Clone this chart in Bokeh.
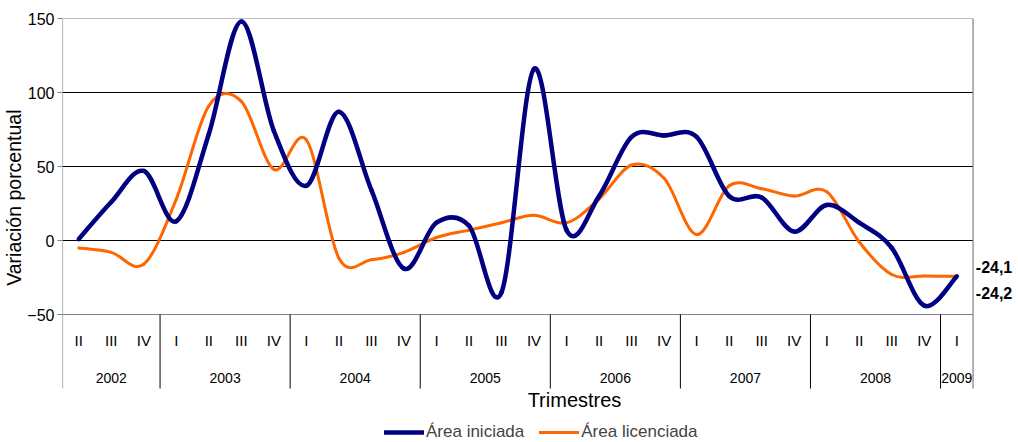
from bokeh.plotting import figure
from bokeh.models import Range1d, FixedTicker, Legend, LegendItem, Label, ColumnDataSource, Title
from bokeh.core.properties import value
from bokeh.embed import file_html
from bokeh.resources import INLINE

# ---------------- data ----------------
years = ["2002", "2003", "2004", "2005", "2006", "2007", "2008", "2009"]
quarters_per_year = [3, 4, 4, 4, 4, 4, 4, 1]
quarter_labels = (["II", "III", "IV"] + ["I", "II", "III", "IV"] * 6 + ["I"])
area_iniciada = [1, 26, 47, 13, 72, 148, 74, 37, 87, 34, -19, 12, 10, -35,
                 116, 7, 30, 70, 71, 70, 30, 29, 6, 24, 12, -5, -44, -24.2]
area_licenciada = [-5, -8, -16, 28, 91, 94, 48, 68, -12, -13, -8, 2, 7, 12,
                   17, 12, 28, 51, 42, 4, 37, 35, 30, 33, -1, -23, -24, -24.1]
y_ticks = [-50, 0, 50, 100, 150]
series_names = ["Área iniciada", "Área licenciada"]

# ---------------- style / layout ----------------
FONT = "Liberation Sans"
BLUE = "#000080"
ORANGE = "#FF6600"
PX_PER_Q = 32.554
PX_PER_UNIT = 1.48
FRAME_W = 957
FRAME_H = 424
y_top = max(y_ticks)
y_bottom_axis = min(y_ticks)
cat_depth = 50  # category band below the axis, in y units

n = len(quarter_labels)
xs = [i + 0.5 for i in range(n)]

p = figure(width=1018, height=442, output_backend="svg", toolbar_location=None,
           x_range=Range1d(0, FRAME_W / PX_PER_Q),
           y_range=Range1d(y_top - FRAME_H / PX_PER_UNIT, y_top),
           x_axis_location=None, min_border_left=61, min_border_right=0,
           min_border_top=18, min_border_bottom=0, outline_line_color=None,
           background_fill_color="white", border_fill_color="white")
p.xgrid.visible = False
p.ygrid.visible = False

ax = p.yaxis[0]
ax.ticker = FixedTicker(ticks=y_ticks)
ax.axis_line_color = None
ax.major_tick_line_color = "#808080"
ax.major_tick_out = 5
ax.major_tick_in = 0
ax.minor_tick_line_color = None
ax.major_label_text_font = FONT
ax.major_label_text_font_size = "16px"
ax.major_label_text_color = "black"
ax.major_label_standoff = 3

p.add_layout(Title(text="Variación porcentual", align="right", offset=91,
                   standoff=0, text_font=FONT, text_font_size="19.5px",
                   text_font_style="normal", text_color="black"), "left")

# gridlines / borders
grid_colors = ["#808080" if t in (y_top, y_bottom_axis) else "black" for t in y_ticks]
p.segment(x0=[0] * len(y_ticks), x1=[n] * len(y_ticks), y0=y_ticks, y1=y_ticks,
          line_color=grid_colors, line_width=1)
# left axis line and right border
p.segment(x0=[0, n], x1=[0, n], y0=[y_bottom_axis - cat_depth] * 2, y1=[y_top] * 2,
          line_color="#808080", line_width=1.2)
# year separators
bounds = []
acc = 0
for q in quarters_per_year[:-1]:
    acc += q
    bounds.append(acc)
p.segment(x0=bounds, x1=bounds, y0=[y_bottom_axis] * len(bounds),
          y1=[y_bottom_axis - cat_depth] * len(bounds), line_color="black", line_width=1)

# category labels
p.text(x=xs, y=[y_bottom_axis] * n, text=quarter_labels, text_font=value(FONT),
       text_font_size="15px", text_align="center", text_baseline="middle",
       y_offset=26, text_color="black")
year_centers = []
acc = 0
for q in quarters_per_year:
    year_centers.append(acc + q / 2)
    acc += q
p.text(x=year_centers, y=[y_bottom_axis] * len(years), text=years,
       text_font=value(FONT), text_font_size="14px", text_align="center",
       text_baseline="middle", y_offset=63, text_color="black")


def bezier_source(xv, yv):
    m = len(xv)
    d = dict(x0=[], y0=[], x1=[], y1=[], cx0=[], cy0=[], cx1=[], cy1=[])
    for i in range(m - 1):
        a = i - 1 if i > 0 else i
        b = i + 2 if i + 2 < m else i + 1
        d["x0"].append(xv[i]); d["y0"].append(yv[i])
        d["x1"].append(xv[i + 1]); d["y1"].append(yv[i + 1])
        d["cx0"].append(xv[i] + (xv[i + 1] - xv[a]) / 6)
        d["cy0"].append(yv[i] + (yv[i + 1] - yv[a]) / 6)
        d["cx1"].append(xv[i + 1] - (xv[b] - xv[i]) / 6)
        d["cy1"].append(yv[i + 1] - (yv[b] - yv[i]) / 6)
    return ColumnDataSource(d)


r_or = p.bezier(x0="x0", y0="y0", x1="x1", y1="y1", cx0="cx0", cy0="cy0",
                cx1="cx1", cy1="cy1", source=bezier_source(xs, area_licenciada),
                line_color=ORANGE, line_width=3, line_cap="round")
r_bl = p.bezier(x0="x0", y0="y0", x1="x1", y1="y1", cx0="cx0", cy0="cy0",
                cx1="cx1", cy1="cy1", source=bezier_source(xs, area_iniciada),
                line_color=BLUE, line_width=4.5, line_cap="round")

# end value labels
end_vals = [area_licenciada[-1], area_iniciada[-1]]
end_txt = [("%.1f" % v).replace(".", ",") for v in end_vals]
p.text(x=[xs[-1]] * 2, y=end_vals, text=end_txt, text_font=value(FONT),
       text_font_size="16px", text_font_style="bold", text_align="left",
       text_baseline="middle", x_offset=19, y_offset=[-9, 17], text_color="black")

p.add_layout(Label(x=512, y=43, x_units="screen", y_units="screen",
                   text="Trimestres", text_align="center", text_baseline="middle",
                   text_font=FONT, text_font_size="20px", text_color="black"))

legend = Legend(items=[LegendItem(label=series_names[0], renderers=[r_bl]),
                       LegendItem(label=series_names[1], renderers=[r_or])],
                orientation="horizontal", location=(322, 0), padding=0, margin=0,
                spacing=15, glyph_width=40, glyph_height=20, label_height=20,
                label_standoff=2, label_text_font=FONT, label_text_font_size="17px",
                border_line_color=None, background_fill_alpha=0)
p.add_layout(legend)

open("out.html", "w").write(file_html(p, INLINE))
